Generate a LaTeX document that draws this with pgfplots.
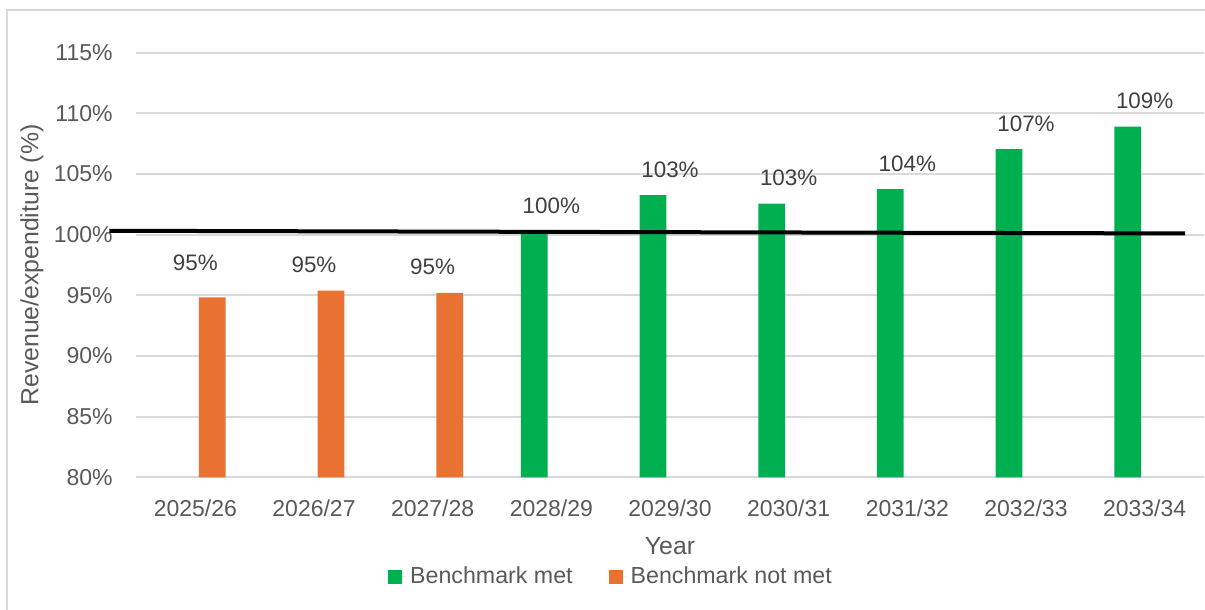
\documentclass[border=0pt]{standalone}
\usepackage{pgfplots}
\pgfplotsset{compat=1.18}
\usepackage{pgfplotstable}
\usepackage{fontspec}
\setmainfont{Liberation Sans}

\definecolor{metgreen}{HTML}{00B050}
\definecolor{missorange}{HTML}{E97132}
\definecolor{gridgray}{HTML}{D9D9D9}
\definecolor{labelgray}{HTML}{595959}
\definecolor{valuegray}{HTML}{404040}

% revenue/expenditure ratio (%) per year; lift = label offset above the bar
\pgfplotstableread{
x y lift
3 100.3 9
4 103.25 9
5 102.55 9
6 103.75 9
7 107.05 9
8 108.9 9
}\metdata
\pgfplotstableread{
x y lift
0 94.84 13.2
1 95.39 9
2 95.2 9
}\notmetdata

\begin{document}
\begin{tikzpicture}
\path[use as bounding box] (-68pt,-66.35pt) rectangle (534.5pt,238.65pt);
\begin{axis}[
  at={(0pt,0pt)}, anchor=south west,
  scale only axis, width=534pt, height=212.3pt,
  xmin=-0.5, xmax=8.5, ymin=80, ymax=115,
  ytick={80,85,90,95,100,105,110,115},
  xtick={0,1,2,3,4,5,6,7,8},
  xticklabels={2025/26,2026/27,2027/28,2028/29,2029/30,2030/31,2031/32,2032/33,2033/34},
  axis line style={draw=none},
  major tick length=0pt,
  ymajorgrids, grid style={gridgray, line width=1pt},
  /pgf/number format/assume math mode=true,
  yticklabel={\pgfmathprintnumber{\tick}\%},
  yticklabel style={font=\fontsize{11.5}{13}\selectfont, text=labelgray, inner sep=0pt, anchor=east, xshift=-11.5pt},
  xticklabel style={font=\fontsize{11.5}{13}\selectfont, text=labelgray, inner sep=0pt, anchor=north, yshift=-11pt},
  xlabel={Year},
  xlabel style={at={(axis description cs:0.5,-0.1623)}, anchor=center, font=\fontsize{12.4}{14}\selectfont, text=labelgray},
  ylabel={Revenue/expenditure (\%)},
  ylabel style={at={(axis description cs:-0.0974,0.5)}, anchor=center, font=\fontsize{12.4}{14}\selectfont, text=labelgray},
  legend style={at={(axis description cs:0.4457,-0.2348)}, anchor=center, draw=none, fill=none,
    font=\fontsize{11.6}{13}\selectfont, text=labelgray, legend columns=2,
    /tikz/every even column/.append style={column sep=16pt}},
  legend cell align=left,
  legend image code/.code={\fill[#1] (0pt,-3.5pt) rectangle (7pt,3.5pt); \path (0pt,0pt) -- (9pt,0pt);},
]
\addplot[ybar, bar width=13.35pt, bar shift=-8.5pt, fill=metgreen, draw=none,
  point meta=y,
  visualization depends on={\thisrow{lift} \as \lift},
  nodes near coords={\pgfmathprintnumber[fixed,precision=0]{\pgfplotspointmeta}\%},
  nodes near coords style={anchor=base, yshift=\lift pt, inner sep=0pt, text=valuegray, font=\fontsize{11.2}{13}\selectfont}]
  table[x=x, y=y] {\metdata};
\addlegendentry{Benchmark met}
\addplot[ybar, bar width=13.35pt, bar shift=8.5pt, fill=missorange, draw=none,
  point meta=y,
  visualization depends on={\thisrow{lift} \as \lift},
  nodes near coords={\pgfmathprintnumber[fixed,precision=0]{\pgfplotspointmeta}\%},
  nodes near coords style={anchor=base, yshift=\lift pt, inner sep=0pt, text=valuegray, font=\fontsize{11.2}{13}\selectfont}]
  table[x=x, y=y] {\notmetdata};
\addlegendentry{Benchmark not met}
\end{axis}
% 100% benchmark line, running past the plot area on the left
\begin{axis}[
  at={(0pt,0pt)}, anchor=south west,
  scale only axis, width=534pt, height=212.3pt,
  xmin=-0.5, xmax=8.5, ymin=80, ymax=115,
  hide axis, clip=false]
\addplot[black, line width=2pt] coordinates {(-0.725,100.32) (8.34,100.10)};
\end{axis}
% chart area border
\draw[gridgray, line width=1pt] (-64.5pt,-70pt) -- (-64.5pt,233.65pt) -- (540pt,233.65pt);
\end{tikzpicture}
\end{document}
